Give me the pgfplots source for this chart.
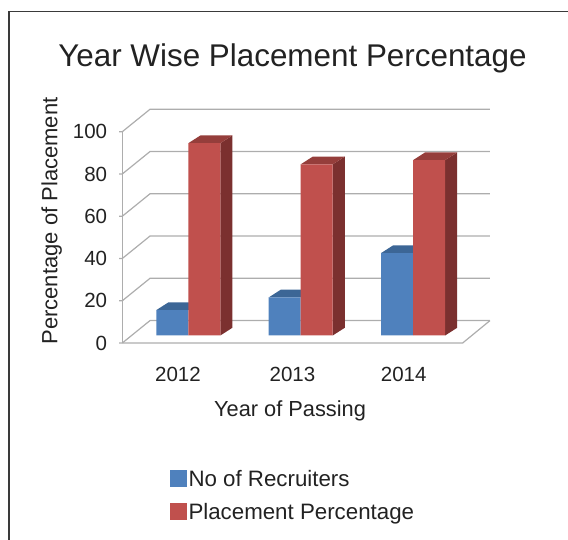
\documentclass[border=0pt]{standalone}
\usepackage{fontspec}
\setmainfont{Liberation Sans}
\usepackage{pgfplots}
\usepackage{pgfplotstable}
\pgfplotsset{compat=1.18}
\definecolor{bfront}{HTML}{4F81BD}
\definecolor{btop}{HTML}{3C6696}
\definecolor{rfront}{HTML}{C0504D}
\definecolor{rtop}{HTML}{953E3B}
\definecolor{rside}{HTML}{7B302F}
\definecolor{gridc}{HTML}{ADADAD}
\definecolor{txt}{HTML}{222222}
\definecolor{framec}{HTML}{3A3A3A}

\pgfplotstableread{
x rec pla
0 12 91
1 18 81
2 39 83
}\datatable

\begin{document}
\begin{tikzpicture}[x=1pt,y=1pt,text=txt]
\useasboundingbox (0,0) rectangle (568,540);
\clip (0,0) rectangle (568,540);
\draw[framec, line width=1.5pt] (9,-10) -- (9,528.5) -- (590,528.5);
\begin{axis}[
  x=112.4pt, y=2.113pt,
  xmin=-0.587, xmax=2.7, ymin=-3.55, ymax=108,
  at={(188.3pt,204.5pt)}, anchor=origin,
  clip=false,
  axis line style={draw=none},
  major tick length=0pt,
  /pgf/number format/assume math mode=true,
  xtick={-0.092,0.927,1.916}, xticklabels={2012,2013,2014},
  ytick={-3.55,16.45,36.45,56.45,76.45,96.45}, yticklabels={0,20,40,60,80,100},
  tick label style={font=\fontsize{20.5}{24}\selectfont, text=txt},
  xticklabel style={anchor=base, inner sep=0pt, yshift=-38.7pt},
  yticklabel style={anchor=east, inner sep=0pt, xshift=-15pt},
  title={Year Wise Placement Percentage},
  title style={at={([yshift=58.7pt]axis cs:0.927,96.45)}, anchor=base, inner sep=0pt, font=\fontsize{31.4}{36}\selectfont},
  xlabel={Year of Passing},
  xlabel style={at={([yshift=-73.7pt]axis cs:0.905,-3.55)}, anchor=base, inner sep=0pt, font=\fontsize{21.8}{26}\selectfont},
  ylabel={Percentage of Placement},
  ylabel style={at={([xshift=-65pt]axis cs:-0.587,54.2)}, rotate=0, anchor=base, inner sep=0pt, font=\fontsize{22}{26}\selectfont},
  legend style={draw=none, fill=none, inner sep=0pt, outer sep=0pt,
    at={(axis cs:-0.1628,-63.84)}, anchor=north west,
    font=\fontsize{22.3}{26}\selectfont,
    nodes={inner sep=0pt, text depth=0pt},
    cells={anchor=base west},
    row sep=15.8pt, column sep=1.8pt},
]
% walls and floor
\draw[gridc, line width=1.2pt] (axis cs:-0.587,-3.55) -- (axis cs:-0.587,96.45);
\draw[gridc, line width=1.2pt] (axis cs:-0.587,-3.55) -- (axis cs:2.441,-3.55) -- (axis cs:2.684,7.05);
\draw[gridc, line width=1.2pt] (axis cs:-0.587,-3.55) -- ++(-3.3pt,0pt) (axis cs:-0.587,-3.55) -- (axis cs:-0.341,7.05) -- (axis cs:2.684,7.05);
\draw[gridc, line width=1.2pt] (axis cs:-0.587,16.45) -- ++(-3.3pt,0pt) (axis cs:-0.587,16.45) -- (axis cs:-0.341,27.05) -- (axis cs:2.684,27.05);
\draw[gridc, line width=1.2pt] (axis cs:-0.587,36.45) -- ++(-3.3pt,0pt) (axis cs:-0.587,36.45) -- (axis cs:-0.341,47.05) -- (axis cs:2.684,47.05);
\draw[gridc, line width=1.2pt] (axis cs:-0.587,56.45) -- ++(-3.3pt,0pt) (axis cs:-0.587,56.45) -- (axis cs:-0.341,67.05) -- (axis cs:2.684,67.05);
\draw[gridc, line width=1.2pt] (axis cs:-0.587,76.45) -- ++(-3.3pt,0pt) (axis cs:-0.587,76.45) -- (axis cs:-0.341,87.05) -- (axis cs:2.684,87.05);
\draw[gridc, line width=1.2pt] (axis cs:-0.587,96.45) -- ++(-3.3pt,0pt) (axis cs:-0.587,96.45) -- (axis cs:-0.341,107.05) -- (axis cs:2.684,107.05);
% blue bars: top faces
\addplot[fill=btop, draw=none, forget plot] coordinates {(-0.285,12) (0,12) (0.107,15.65) (-0.178,15.65)} -- cycle;
\addplot[fill=btop, draw=none, forget plot] coordinates {(0.715,18) (1,18) (1.107,21.65) (0.822,21.65)} -- cycle;
\addplot[fill=btop, draw=none, forget plot] coordinates {(1.715,39) (2,39) (2.107,42.65) (1.822,42.65)} -- cycle;
% blue front
\addplot[ybar, bar width=0.285, bar shift=-0.1425, fill=bfront, draw=none,
  legend image code/.code={\fill[bfront] (0pt,-0.5pt) rectangle (16.7pt,16.2pt);}]
  table[x=x, y=rec] {\datatable};
\addlegendentry{No of Recruiters}
% red bars: side and top
\addplot[fill=rside, draw=none, forget plot] coordinates {(0.285,0) (0.392,3.65) (0.392,94.65) (0.285,91)} -- cycle;
\addplot[fill=rside, draw=none, forget plot] coordinates {(1.285,0) (1.392,3.65) (1.392,84.65) (1.285,81)} -- cycle;
\addplot[fill=rside, draw=none, forget plot] coordinates {(2.285,0) (2.392,3.65) (2.392,86.65) (2.285,83)} -- cycle;
\addplot[fill=rtop, draw=none, forget plot] coordinates {(0,91) (0.285,91) (0.392,94.65) (0.107,94.65)} -- cycle;
\addplot[fill=rtop, draw=none, forget plot] coordinates {(1,81) (1.285,81) (1.392,84.65) (1.107,84.65)} -- cycle;
\addplot[fill=rtop, draw=none, forget plot] coordinates {(2,83) (2.285,83) (2.392,86.65) (2.107,86.65)} -- cycle;
% red front
\addplot[ybar, bar width=0.285, bar shift=0.1425, fill=rfront, draw=none,
  legend image code/.code={\fill[rfront] (0pt,-0.5pt) rectangle (16.7pt,16.2pt);}]
  table[x=x, y=pla] {\datatable};
\addlegendentry{Placement Percentage}
\end{axis}
\end{tikzpicture}
\end{document}
